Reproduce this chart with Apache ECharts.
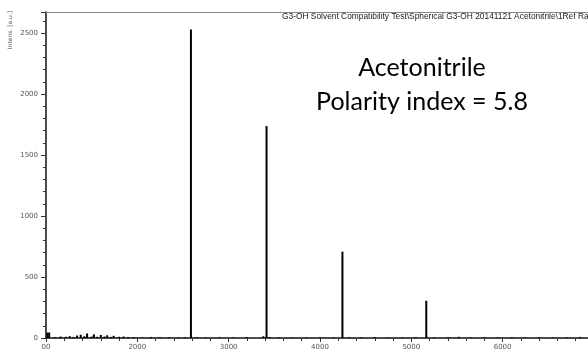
<!DOCTYPE html>
<html><head><meta charset="utf-8">
<script src="https://cdn.jsdelivr.net/npm/echarts@6/dist/echarts.min.js"></script>
<style>html,body{margin:0;padding:0;background:#fff}#c{width:588px;height:355px}</style>
</head><body><div id="c"></div>
<script>
// main peaks (m/z, intensity)
const peakMz = [2587, 3415, 4246, 5164];
const peakInt = [2530, 1738, 708, 305];
// small noise peaks
const noiseMz = [1015, 1035, 1100, 1160, 1220, 1260, 1300, 1340, 1380, 1420, 1450, 1500, 1525, 1560, 1600, 1640, 1670, 1710, 1740, 1800, 1850, 1900, 1960, 2050, 2150, 2250, 2350, 2450, 2520, 2650, 2750, 2900, 3050, 3200, 3380, 3450, 3550, 3700, 3850, 4000, 4150, 4320, 4450, 4600, 4750, 4900, 5050, 5250, 5400, 5520, 5650, 5800, 5950, 6100, 6250, 6400, 6550, 6700, 6850];
const noiseInt = [45, 45, 8, 12, 10, 15, 9, 20, 27, 14, 37, 12, 30, 10, 25, 12, 22, 9, 18, 10, 12, 8, 7, 6, 8, 6, 7, 5, 6, 6, 5, 6, 5, 6, 14, 8, 6, 5, 6, 5, 6, 7, 5, 6, 5, 5, 6, 6, 5, 10, 5, 6, 5, 6, 5, 6, 5, 6, 9];
const xTicks = [1000, 2000, 3000, 4000, 5000, 6000];
const yTicks = [0, 500, 1000, 1500, 2000, 2500];
const titleText = 'G3-OH Solvent Compatibility Test\\Spherical G3-OH 20141121 Acetonitrile\\1Ref Raw';
const yName = 'Intens. [a.u.]';

const peakData = peakMz.map((m, i) => [m, peakInt[i]]);
const noiseData = noiseMz.map((m, i) => [m, noiseInt[i]]);

const chart = echarts.init(document.getElementById('c'));
const lab = {color: '#555', fontSize: 7, fontFamily: 'DejaVu Sans'};
chart.setOption({
  animation: false,
  backgroundColor: '#fff',
  grid: {left: 46, top: 12, right: -2, bottom: 17},
  xAxis: [{
    type: 'value', min: 1000, max: 6935, interval: 1000,
    axisLine: {lineStyle: {color: '#111', width: 1.5}},
    axisTick: {show: true, length: 4, lineStyle: {color: '#333'}},
    minorTick: {show: true, splitNumber: 5, length: 3, lineStyle: {color: '#333'}},
    splitLine: {show: false},
    axisLabel: {...lab, margin: 6, showMaxLabel: false, formatter: v => v === 1000 ? '00' : String(v)}
  }, {
    type: 'value', position: 'top', min: 1000, max: 6935,
    axisLine: {show: true, onZero: false, lineStyle: {color: '#888', width: 1.2}},
    axisTick: {show: false}, axisLabel: {show: false}, splitLine: {show: false}
  }],
  yAxis: {
    type: 'value', min: 0, max: 2673, interval: 500,
    axisLine: {show: true, lineStyle: {color: '#111', width: 1.5}},
    axisTick: {show: true, length: 5, lineStyle: {color: '#333'}},
    minorTick: {show: true, splitNumber: 5, length: 3, lineStyle: {color: '#333'}},
    splitLine: {show: false},
    axisLabel: {...lab, margin: 8, showMaxLabel: false, formatter: v => String(v)}
  },
  series: [{
    type: 'bar', data: peakData, barWidth: 2, barGap: '-100%',
    itemStyle: {color: '#000'}, silent: true
  }, {
    type: 'bar', data: noiseData, barWidth: 2, barGap: '-100%',
    itemStyle: {color: '#000'}, silent: true
  }],
  graphic: [{
    type: 'text', left: 282, top: 13,
    style: {text: titleText, fill: '#222', font: '8.4px "Liberation Sans"'}
  }, {
    type: 'text', x: 10, y: 30, rotation: Math.PI / 2,
    style: {text: yName, fill: '#555', font: '6px "DejaVu Sans"', textAlign: 'center', textVerticalAlign: 'middle'}
  }, {
    type: 'text', x: 422, y: 68,
    style: {text: 'Acetonitrile', fill: '#000', font: '25px Lato', textAlign: 'center', textVerticalAlign: 'middle'}
  }, {
    type: 'text', x: 422, y: 102,
    style: {text: 'Polarity index = 5.8', fill: '#000', font: '25px Lato', textAlign: 'center', textVerticalAlign: 'middle'}
  }]
});
</script></body></html>
